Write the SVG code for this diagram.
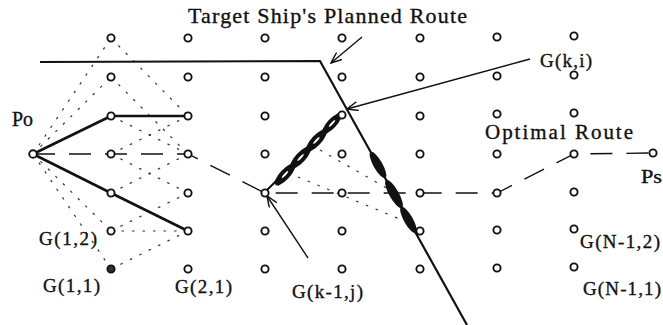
<svg xmlns="http://www.w3.org/2000/svg" width="663" height="325" viewBox="0 0 663 325">
<style>
.nd{fill:#fff;stroke:#111;stroke-width:1.9}
.t{font-family:"Liberation Serif","Times New Roman",serif;fill:#111;stroke:#111;stroke-width:0.35}
.dot{fill:none;stroke:#333;stroke-width:1.2;stroke-dasharray:2.5 8}
.bold{fill:none;stroke:#111;stroke-width:2.6;stroke-linejoin:round}
.dash{fill:none;stroke:#111;stroke-width:1.4;stroke-dasharray:22 14}
.thin{fill:none;stroke:#111;stroke-width:1.4}
</style>
<defs>
<marker id="ah" viewBox="0 0 12 10" refX="11" refY="5" markerWidth="12" markerHeight="10" markerUnits="userSpaceOnUse" orient="auto">
<path d="M0,0.5 L11,5 L0,9.5" fill="none" stroke="#111" stroke-width="1.5"/>
</marker>
</defs>
<rect width="663" height="325" fill="#fff"/>
<g id="connectors">
<path class="dot" d="M33,154 L111,38 M33,154 L111,77 M33,154 L111,231 M33,154 L111,269 M111,38 L188,116 M111,77 L188,154 M111,116 L188,154 M111,154 L188,116 M111,154 L188,193 M111,193 L188,154 M111,231 L188,231 M111,269 L188,231 M111,231 L188,193 M320,150 L390,190 M298,177 L402,220"/>
<path id="target-route" d="M40,62 L320,61 L467,325" fill="none" stroke="#111" stroke-width="2.2"/>
<path class="bold" d="M33,154 L111,116 L188,116"/>
<path class="bold" d="M33,154 L111,193 L188,231"/>
<path class="dash" d="M33,154 L111,154 L188,154 L265,193 L342,193 L420,193 L497,193 L574,154 L653,153"/>
<g id="own-ship">
<line x1="266" y1="191" x2="342" y2="116" stroke="#111" stroke-width="2"/>
<line x1="276" y1="184" x2="340" y2="115" stroke="#111" stroke-width="6"/>
<g fill="#111">
<ellipse cx="285" cy="174.5" rx="14" ry="5" transform="rotate(-47 285 174.5)"/>
<ellipse cx="300.6" cy="157.5" rx="14" ry="5" transform="rotate(-47 300.6 157.5)"/>
<ellipse cx="316.4" cy="140.5" rx="14" ry="5" transform="rotate(-47 316.4 140.5)"/>
<ellipse cx="332" cy="123.5" rx="13" ry="4.6" transform="rotate(-47 332 123.5)"/>
</g>
<g fill="#fff">
<ellipse cx="285" cy="174.5" rx="4.5" ry="1" transform="rotate(-47 285 174.5)"/>
<ellipse cx="300.6" cy="157.5" rx="4.5" ry="1" transform="rotate(-47 300.6 157.5)"/>
<ellipse cx="316.4" cy="140.5" rx="4.5" ry="1" transform="rotate(-47 316.4 140.5)"/>
<ellipse cx="332" cy="123.5" rx="4.5" ry="1" transform="rotate(-47 332 123.5)"/>
</g>
</g>
<g id="target-ship" fill="#111">
<ellipse cx="378" cy="165" rx="15" ry="4.5" transform="rotate(60.6 378 165)"/>
<ellipse cx="394" cy="194" rx="16" ry="4.8" transform="rotate(60.6 394 194)"/>
<ellipse cx="408.5" cy="220" rx="15" ry="4.5" transform="rotate(60.6 408.5 220)"/>
</g>
<line class="thin" x1="362" y1="37" x2="331" y2="63" marker-end="url(#ah)"/>
<line class="thin" x1="530" y1="59" x2="347" y2="109" marker-end="url(#ah)"/>
<line class="thin" x1="308" y1="258" x2="267" y2="196" marker-end="url(#ah)"/>
</g>
<g id="nodes">
<g id="Po"><circle class="nd" cx="33" cy="154" r="3.8"/></g>
<g id="Ps"><circle class="nd" cx="653" cy="153" r="3.6"/></g>
<g id="col1">
<g id="G1-7"><circle class="nd" cx="111" cy="38" r="3.6"/></g>
<g id="G1-6"><circle class="nd" cx="111" cy="77" r="3.6"/></g>
<g id="G1-5"><circle class="nd" cx="111" cy="116" r="3.6"/></g>
<g id="G1-4"><circle class="nd" cx="111" cy="154" r="3.6"/></g>
<g id="G1-3"><circle class="nd" cx="111" cy="193" r="3.6"/></g>
<g id="G1-2"><circle class="nd" cx="111" cy="231" r="3.6"/></g>
<g id="G1-1"><circle class="nd" cx="111" cy="269" r="3.6" style="fill:#333"/></g>
</g>
<g id="col2">
<g id="G2-7"><circle class="nd" cx="188" cy="38" r="3.6"/></g>
<g id="G2-6"><circle class="nd" cx="188" cy="77" r="3.6"/></g>
<g id="G2-5"><circle class="nd" cx="188" cy="116" r="3.6"/></g>
<g id="G2-4"><circle class="nd" cx="188" cy="154" r="3.6"/></g>
<g id="G2-3"><circle class="nd" cx="188" cy="193" r="3.6"/></g>
<g id="G2-2"><circle class="nd" cx="188" cy="231" r="3.6"/></g>
<g id="G2-1"><circle class="nd" cx="188" cy="269" r="3.6"/></g>
</g>
<g id="col3">
<g id="G3-7"><circle class="nd" cx="265" cy="38" r="3.6"/></g>
<g id="G3-6"><circle class="nd" cx="265" cy="77" r="3.6"/></g>
<g id="G3-5"><circle class="nd" cx="265" cy="116" r="3.6"/></g>
<g id="G3-4"><circle class="nd" cx="265" cy="154" r="3.6"/></g>
<g id="G3-3"><circle class="nd" cx="265" cy="193" r="3.6"/></g>
<g id="G3-2"><circle class="nd" cx="265" cy="231" r="3.6"/></g>
<g id="G3-1"><circle class="nd" cx="265" cy="269" r="3.6"/></g>
</g>
<g id="col4">
<g id="G4-7"><circle class="nd" cx="342" cy="38" r="3.6"/></g>
<g id="G4-6"><circle class="nd" cx="342" cy="77" r="3.6"/></g>
<g id="G4-5"><circle class="nd" cx="342" cy="115" r="3.6"/></g>
<g id="G4-4"><circle class="nd" cx="342" cy="154" r="3.6"/></g>
<g id="G4-3"><circle class="nd" cx="342" cy="193" r="3.6"/></g>
<g id="G4-2"><circle class="nd" cx="342" cy="231" r="3.6"/></g>
<g id="G4-1"><circle class="nd" cx="342" cy="269" r="3.6"/></g>
</g>
<g id="col5">
<g id="G5-7"><circle class="nd" cx="420" cy="38" r="3.6"/></g>
<g id="G5-6"><circle class="nd" cx="420" cy="77" r="3.6"/></g>
<g id="G5-5"><circle class="nd" cx="420" cy="116" r="3.6"/></g>
<g id="G5-4"><circle class="nd" cx="420" cy="154" r="3.6"/></g>
<g id="G5-3"><circle class="nd" cx="420" cy="193" r="3.6"/></g>
<g id="G5-2"><circle class="nd" cx="420" cy="231" r="3.6"/></g>
<g id="G5-1"><circle class="nd" cx="420" cy="269" r="3.6"/></g>
</g>
<g id="col6">
<g id="G6-7"><circle class="nd" cx="497" cy="37" r="3.6"/></g>
<g id="G6-6"><circle class="nd" cx="497" cy="76" r="3.6"/></g>
<g id="G6-5"><circle class="nd" cx="497" cy="114" r="3.6"/></g>
<g id="G6-4"><circle class="nd" cx="497" cy="154" r="3.6"/></g>
<g id="G6-3"><circle class="nd" cx="497" cy="193" r="3.6"/></g>
<g id="G6-2"><circle class="nd" cx="497" cy="230" r="3.6"/></g>
<g id="G6-1"><circle class="nd" cx="497" cy="268" r="3.6"/></g>
</g>
<g id="col7">
<g id="G7-7"><circle class="nd" cx="574" cy="36" r="3.6"/></g>
<g id="G7-6"><circle class="nd" cx="574" cy="75" r="3.6"/></g>
<g id="G7-5"><circle class="nd" cx="574" cy="113" r="3.6"/></g>
<g id="G7-4"><circle class="nd" cx="574" cy="154" r="3.6"/></g>
<g id="G7-3"><circle class="nd" cx="574" cy="192" r="3.6"/></g>
<g id="G7-2"><circle class="nd" cx="574" cy="229" r="3.6"/></g>
<g id="G7-1"><circle class="nd" cx="574" cy="267" r="3.6"/></g>
</g>
</g>
<g id="labels">
<text class="t" x="188" y="23" font-size="22" textLength="279" lengthAdjust="spacing">Target Ship's Planned Route</text>
<text class="t" x="12" y="126" font-size="20" textLength="21" lengthAdjust="spacingAndGlyphs">Po</text>
<text class="t" x="485" y="139" font-size="21" textLength="148" lengthAdjust="spacing">Optimal Route</text>
<text class="t" x="641" y="183" font-size="18" textLength="21" lengthAdjust="spacingAndGlyphs">Ps</text>
<text class="t" x="540" y="67" font-size="19" textLength="52" lengthAdjust="spacing">G(k,i)</text>
<text class="t" x="39" y="245" font-size="19" textLength="58" lengthAdjust="spacing">G(1,2)</text>
<text class="t" x="43" y="292" font-size="19" textLength="57" lengthAdjust="spacing">G(1,1)</text>
<text class="t" x="175" y="293" font-size="19" textLength="57" lengthAdjust="spacing">G(2,1)</text>
<text class="t" x="292" y="298" font-size="19" textLength="71" lengthAdjust="spacing">G(k-1,j)</text>
<text class="t" x="580" y="248" font-size="19" textLength="80" lengthAdjust="spacing">G(N-1,2)</text>
<text class="t" x="583" y="295" font-size="19" textLength="78" lengthAdjust="spacing">G(N-1,1)</text>
</g>
</svg>
